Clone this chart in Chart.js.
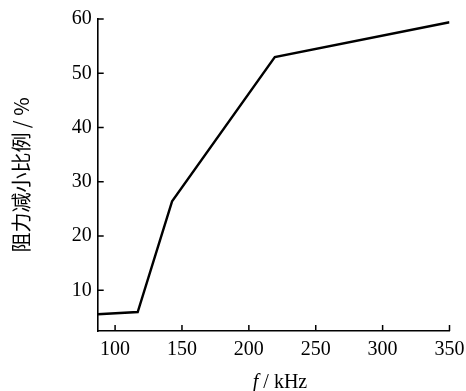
<!DOCTYPE html>
<html>
<head>
<meta charset="utf-8">
<script src="https://cdn.jsdelivr.net/npm/chart.js@4.4.1/dist/chart.umd.min.js"></script>
<style>
  html, body { margin: 0; padding: 0; background: #fff; }
  #wrap { width: 466px; height: 391px; }
</style>
</head>
<body>
<div id="wrap"><canvas id="grafico"></canvas></div>
<script>
// Datos
const frecuencias = [87, 116.9, 142.6, 219.4, 350];
const reduccion = [5.6, 6.0, 26.4, 53.0, 59.4];
const ticksX = [100, 150, 200, 250, 300, 350];
const ticksY = [10, 20, 30, 40, 50, 60];

const serif = '"Liberation Serif", "DejaVu Serif", serif';

// Marcas de escala hacia dentro y título del eje x con f en cursiva
const marcasInternas = {
    id: 'marcasInternas',
    afterDraw(chart) {
        const ctx = chart.ctx;
        const x = chart.scales.x, y = chart.scales.y;
        ctx.save();
        ctx.strokeStyle = '#000';
        ctx.lineWidth = 1.5;
        ctx.beginPath();
        x.ticks.forEach(t => {
            const px = x.getPixelForValue(t.value);
            ctx.moveTo(px, y.bottom);
            ctx.lineTo(px, y.bottom - 6);
        });
        y.ticks.forEach(t => {
            const py = y.getPixelForValue(t.value);
            ctx.moveTo(x.left, py);
            ctx.lineTo(x.left + 6, py);
        });
        ctx.stroke();

        // título eje x
        ctx.fillStyle = '#000';
        ctx.textBaseline = 'alphabetic';
        ctx.textAlign = 'left';
        ctx.font = 'italic 20px ' + serif;
        const fW = ctx.measureText('f').width;
        ctx.font = '20px ' + serif;
        const resto = ' / kHz';
        const rW = ctx.measureText(resto).width;
        const cx = 280, base = 388;
        const x0 = cx - (fW + rW) / 2;
        ctx.font = 'italic 20px ' + serif;
        ctx.fillText('f', x0, base);
        ctx.font = '20px ' + serif;
        ctx.fillText(resto, x0 + fW, base);
        ctx.restore();
    }
};

const ctx = document.getElementById('grafico').getContext('2d');
new Chart(ctx, {
    type: 'line',
    data: {
        datasets: [{
            data: frecuencias.map((f, i) => ({ x: f, y: reduccion[i] })),
            borderColor: '#000',
            borderWidth: 2.4,
            pointRadius: 0,
            tension: 0,
            fill: false
        }]
    },
    options: {
        responsive: true,
        maintainAspectRatio: false,
        animation: false,
        layout: { padding: { top: 19, right: 16.5, left: 0, bottom: 0 } },
        plugins: {
            legend: { display: false },
            tooltip: { enabled: false }
        },
        scales: {
            x: {
                type: 'linear',
                min: 87,
                max: 350,
                afterBuildTicks: s => { s.ticks = ticksX.map(v => ({ value: v })); },
                afterFit: s => { s.height = 60; s.paddingLeft = 0; s.paddingRight = 0; },
                grid: { display: false, drawTicks: false },
                border: { display: true, color: '#000', width: 1.6 },
                ticks: {
                    color: '#000',
                    padding: 7,
                    maxRotation: 0,
                    font: { family: serif, size: 20 }
                }
            },
            y: {
                type: 'linear',
                min: 2.5,
                max: 60,
                afterBuildTicks: s => { s.ticks = ticksY.map(v => ({ value: v })); },
                afterFit: s => { s.width = 97.7; s.paddingTop = 0; s.paddingBottom = 0; },
                grid: { display: false, drawTicks: false },
                border: { display: true, color: '#000', width: 1.6 },
                ticks: {
                    color: '#000',
                    padding: 6,
                    font: { family: serif, size: 20 }
                },
                title: {
                    display: true,
                    text: '阻力减小比例 / %',
                    color: '#000',
                    padding: { top: 9.5, bottom: 0 },
                    font: { family: '"Noto Sans CJK SC", ' + serif, size: 20 }
                }
            }
        }
    },
    plugins: [marcasInternas]
});
</script>
</body>
</html>
